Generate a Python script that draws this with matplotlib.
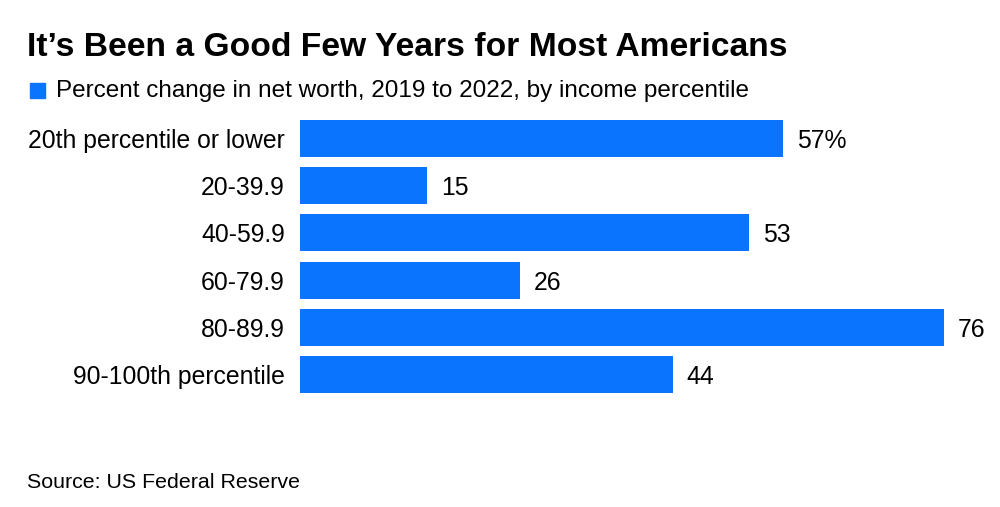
import matplotlib.pyplot as plt

categories = ['20th percentile or lower', '20-39.9', '40-59.9', '60-79.9', '80-89.9', '90-100th percentile']
values = [57, 15, 53, 26, 76, 44]
value_labels = ['57%', '15', '53', '26', '76', '44']

blue = '#0a74ff'
plt.rcParams['font.family'] = ['Liberation Sans', 'DejaVu Sans']

fig = plt.figure(figsize=(10, 5.07), dpi=100)
ax = fig.add_axes([0.300, 0.2148, 0.644, 0.5586])

y = range(len(categories))
ax.barh(y, values, height=0.784, color=blue)
ax.set_xlim(0, 76)
ax.set_ylim(len(categories) - 0.5, -0.5)

# value labels just past the bar ends
for i, (v, lab) in enumerate(zip(values, value_labels)):
    ax.text(v + 1.6, i, lab, va='center_baseline', ha='left', fontsize=17.8,
            color='black', clip_on=False)

ax.set_yticks(list(y))
ax.set_yticklabels(categories, fontsize=17.8)
ax.tick_params(axis='y', length=0, pad=11)
ax.set_xticks([])
for s in ax.spines.values():
    s.set_visible(False)

fig.text(0.027, 1 - 48 / 507, 'It\u2019s Been a Good Few Years for Most Americans',
         fontsize=24.2, fontweight='bold', va='center', ha='left')
fig.patches.append(plt.Rectangle((0.030, 1 - 98 / 507), 0.015, 15 / 507,
                                 transform=fig.transFigure, color=blue))
fig.text(0.056, 1 - 91 / 507, 'Percent change in net worth, 2019 to 2022, by income percentile',
         fontsize=17.5, va='center', ha='left')
fig.text(0.027, 1 - 482 / 507, 'Source: US Federal Reserve', fontsize=15.4, va='center', ha='left')

fig.savefig('out.png', dpi=100, facecolor='white')
